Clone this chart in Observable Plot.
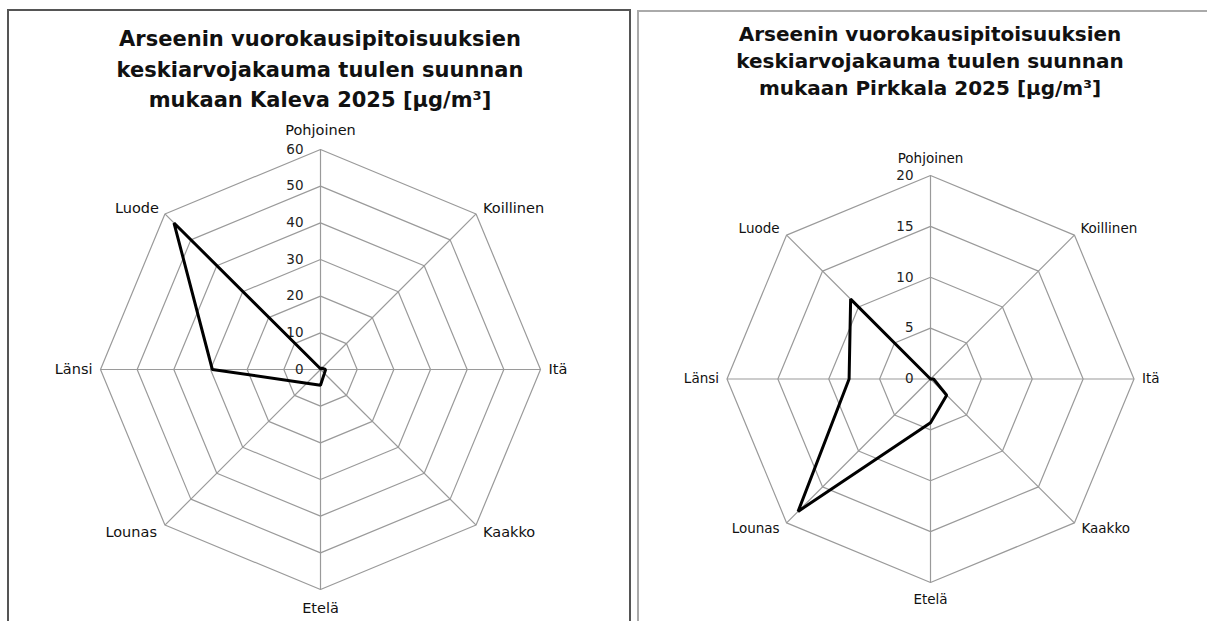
<!DOCTYPE html>
<html>
<head>
<meta charset="utf-8">
<script src="https://cdn.jsdelivr.net/npm/d3@7"></script>
<script src="https://cdn.jsdelivr.net/npm/@observablehq/plot@0.6"></script>
<style>
  html, body { margin: 0; padding: 0; background: #fff; width: 1207px; height: 621px; overflow: hidden; }
  .panel { position: absolute; box-sizing: border-box; background: #fff; }
  .title { position: absolute; text-align: center; font-family: "DejaVu Sans", sans-serif; font-weight: bold; color: #111; white-space: nowrap; }
  .chart { position: absolute; }
</style>
</head>
<body>
<div class="panel" style="left:7px; top:9px; width:624px; height:660px; border:2px solid #555;"></div>
<div class="panel" style="left:637px; top:10px; width:600px; height:660px; border:2px solid #aaa;"></div>
<div class="title" id="title1" style="left:20px; width:600px; top:24px; font-size:21px; line-height:30.5px;"></div>
<div class="title" id="title2" style="left:640px; width:580px; top:21px; font-size:20px; line-height:27px;"></div>
<div class="chart" id="chart1" style="left:9px; top:112px;"></div>
<div class="chart" id="chart2" style="left:640px; top:112px;"></div>
<script>
// ---- data ----
const directions = ["Pohjoinen", "Koillinen", "Itä", "Kaakko", "Etelä", "Lounas", "Länsi", "Luode"];
const kalevaValues = [0.2, 0.5, 1.4, 1.5, 4.3, 5.3, 29.5, 56.5];
const pirkkalaValues = [0, 0, 0.3, 2.25, 4.3, 18.4, 8.0, 11.1];
const kalevaTicks = [0, 10, 20, 30, 40, 50, 60];
const pirkkalaTicks = [0, 5, 10, 15, 20];
const kalevaTitle = ["Arseenin vuorokausipitoisuuksien", "keskiarvojakauma tuulen suunnan", "mukaan Kaleva 2025 [µg/m³]"];
const pirkkalaTitle = ["Arseenin vuorokausipitoisuuksien", "keskiarvojakauma tuulen suunnan", "mukaan Pirkkala 2025 [µg/m³]"];

document.getElementById("title1").innerHTML = kalevaTitle.join("<br>");
document.getElementById("title2").innerHTML = pirkkalaTitle.join("<br>");

const angle = i => i * Math.PI / 4;
const px = (v, i) => v * Math.sin(angle(i));
const py = (v, i) => v * Math.cos(angle(i));

function radar(cfg) {
  const { values, ticks, width, height, cx, cy, R, labelSize, tickSize, place } = cfg;
  const max = d3.max(ticks);
  const rings = [];
  ticks.filter(t => t > 0).forEach(t => {
    for (let i = 0; i <= 8; i++) rings.push({ ring: t, x: px(t, i % 8), y: py(t, i % 8) });
  });
  const spokes = directions.map((d, i) => ({ x1: 0, y1: 0, x2: px(max, i), y2: py(max, i) }));
  const series = [...values, values[0]].map((v, k) => ({ x: px(v, k % 8), y: py(v, k % 8) }));
  const labelMarks = directions.map((d, i) => {
    const p = place[i];
    return Plot.text([d], {
      x: () => px(max, i), y: () => py(max, i), text: t => t,
      textAnchor: p.anchor, dx: p.dx, dy: p.dy, fontSize: labelSize, fill: "#111"
    });
  });
  return Plot.plot({
    width, height, margin: 0,
    style: { fontFamily: "DejaVu Sans, sans-serif", background: "transparent" },
    x: { domain: [-max, max], range: [cx - R, cx + R], axis: null },
    y: { domain: [-max, max], range: [cy + R, cy - R], axis: null },
    marks: [
      Plot.line(rings, { x: "x", y: "y", z: "ring", stroke: "#9a9a9a", strokeWidth: 1.2 }),
      Plot.link(spokes, { x1: "x1", y1: "y1", x2: "x2", y2: "y2", stroke: "#9a9a9a", strokeWidth: 1.2 }),
      Plot.text(ticks, { x: () => 0, y: d => d, text: d => String(d), textAnchor: "end", dx: -17, fontSize: tickSize, fill: "#222" }),
      ...labelMarks,
      Plot.line(series, { x: "x", y: "y", stroke: "#000", strokeWidth: 3, strokeLinejoin: "miter", curve: "linear" })
    ]
  });
}

const place1 = [
  { anchor: "middle", dx: 0, dy: -19 },
  { anchor: "start", dx: 7, dy: -6 },
  { anchor: "start", dx: 8, dy: 0 },
  { anchor: "start", dx: 7, dy: 7 },
  { anchor: "middle", dx: 0, dy: 19 },
  { anchor: "end", dx: -8, dy: 7 },
  { anchor: "end", dx: -8, dy: 0 },
  { anchor: "end", dx: -6, dy: -6 }
];
const place2 = [
  { anchor: "middle", dx: 0, dy: -17 },
  { anchor: "start", dx: 6, dy: -6 },
  { anchor: "start", dx: 8, dy: 0 },
  { anchor: "start", dx: 7, dy: 6 },
  { anchor: "middle", dx: 0, dy: 17 },
  { anchor: "end", dx: -7, dy: 6 },
  { anchor: "end", dx: -8, dy: 0 },
  { anchor: "end", dx: -7, dy: -6 }
];

document.getElementById("chart1").append(radar({
  values: kalevaValues, ticks: kalevaTicks, width: 620, height: 509,
  cx: 311, cy: 257, R: 220, labelSize: 14.5, tickSize: 13.5, place: place1
}));
document.getElementById("chart2").append(radar({
  values: pirkkalaValues, ticks: pirkkalaTicks, width: 560, height: 509,
  cx: 290, cy: 266.5, R: 203.5, labelSize: 13.5, tickSize: 13.5, place: place2
}));
</script>
</body>
</html>
